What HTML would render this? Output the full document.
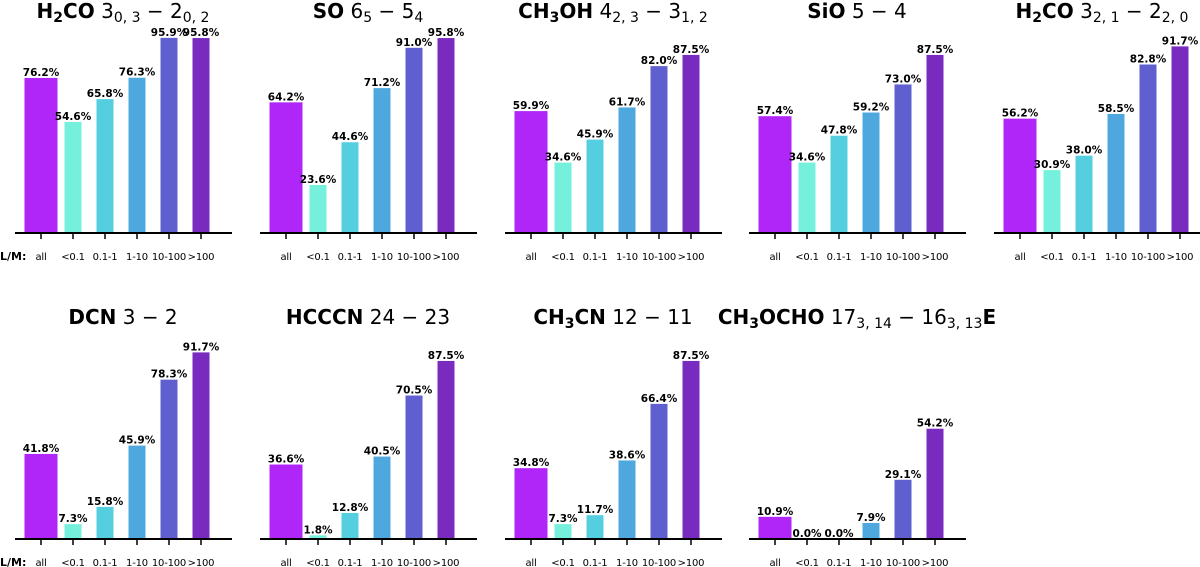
<!DOCTYPE html>
<html><head><meta charset="utf-8"><style>
body{margin:0;background:#fff;}
svg{display:block;font-family:"DejaVu Sans","Liberation Sans",sans-serif;}
</style></head><body>
<svg id="c" width="1200" height="567"></svg>
<script>
const categories=["all","<0.1","0.1-1","1-10","10-100",">100"];
const panelTitles=[
 ['H<tspan font-size="14" dy="4">2</tspan><tspan dy="-4">CO</tspan>','3<tspan font-size="14" dy="4">0, 3</tspan><tspan dy="-4"> − 2</tspan><tspan font-size="14" dy="4">0, 2</tspan>'],
 ['SO','6<tspan font-size="14" dy="4">5</tspan><tspan dy="-4"> − 5</tspan><tspan font-size="14" dy="4">4</tspan>'],
 ['CH<tspan font-size="14" dy="4">3</tspan><tspan dy="-4">OH</tspan>','4<tspan font-size="14" dy="4">2, 3</tspan><tspan dy="-4"> − 3</tspan><tspan font-size="14" dy="4">1, 2</tspan>'],
 ['SiO','5 − 4'],
 ['H<tspan font-size="14" dy="4">2</tspan><tspan dy="-4">CO</tspan>','3<tspan font-size="14" dy="4">2, 1</tspan><tspan dy="-4"> − 2</tspan><tspan font-size="14" dy="4">2, 0</tspan>'],
 ['DCN','3 − 2'],
 ['HCCCN','24 − 23'],
 ['CH<tspan font-size="14" dy="4">3</tspan><tspan dy="-4">CN</tspan>','12 − 11'],
 ['CH<tspan font-size="14" dy="4">3</tspan><tspan dy="-4">OCHO</tspan>','17<tspan font-size="14" dy="4">3, 14</tspan><tspan dy="-4"> − 16</tspan><tspan font-size="14" dy="4">3, 13</tspan><tspan dy="-4" font-weight="bold">E</tspan>']
];
const v0=[76.2,54.6,65.8,76.3,95.9,95.8];
const v1=[64.2,23.6,44.6,71.2,91.0,95.8];
const v2=[59.9,34.6,45.9,61.7,82.0,87.5];
const v3=[57.4,34.6,47.8,59.2,73.0,87.5];
const v4=[56.2,30.9,38.0,58.5,82.8,91.7];
const v5=[41.8,7.3,15.8,45.9,78.3,91.7];
const v6=[36.6,1.8,12.8,40.5,70.5,87.5];
const v7=[34.8,7.3,11.7,38.6,66.4,87.5];
const v8=[10.9,0.0,0.0,7.9,29.1,54.2];
const seriesList=[v0,v1,v2,v3,v4,v5,v6,v7,v8];
const colors=["#b026f8","#74f0dc","#55cfe0","#4fa8dd","#5f5fcf","#7a2bbf"];
const svg=document.getElementById('c');
const NS="http://www.w3.org/2000/svg";
function mk(t,a){const e=document.createElementNS(NS,t);for(const k in a)e.setAttribute(k,a[k]);svg.appendChild(e);return e;}
const xOff=[0,245,490,734,979,0,245,490,734];
const baseY=[233,233,233,233,233,539,539,539,539];
const scale=2.035;
function xPos(i){return 41+32*i;}
function yPos(v,b){return b-v*scale;}
seriesList.forEach((vals,p)=>{
  const ox=xOff[p],b=baseY[p];
  const t=mk('text',{x:ox+123,y:b-215,'text-anchor':'middle','font-size':20});
  
  
  t.innerHTML='<tspan font-weight="bold">'+panelTitles[p][0]+'</tspan><tspan dy="0"> </tspan>'+panelTitles[p][1];
  vals.forEach((v,i)=>{
    const w=i===0?33:17;
    const cx=ox+xPos(i);
    const r=mk('rect',{x:cx-w/2,y:yPos(v,b),width:w,height:b-yPos(v,b),fill:colors[i]});
    
    
    const l=mk('text',{x:cx,y:yPos(v,b)-2,'text-anchor':'middle','font-size':10.5,'font-weight':'bold'});
    
    
    l.textContent=v.toFixed(1)+'%';
    const tk=mk('line',{x1:cx,x2:cx,y1:b,y2:b+6,stroke:'#000','stroke-width':1.5});
    
    
    const tl=mk('text',{x:cx,y:b+27,'text-anchor':'middle','font-size':10,'letter-spacing':'-0.2'});
    
    
    tl.textContent=categories[i];
  });
  const ax=mk('line',{x1:ox+15,x2:ox+232,y1:b,y2:b,stroke:'#000','stroke-width':2});
  
  
});
[233,539].forEach(b=>{
  const t=mk('text',{x:0,y:b+27,'font-size':11,'font-weight':'bold'});
  
  
  t.textContent='L/M:';
});
</script>
</body></html>
